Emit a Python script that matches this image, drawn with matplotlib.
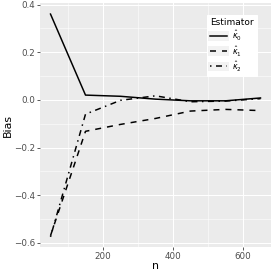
import matplotlib
matplotlib.use('Agg')
import matplotlib.pyplot as plt
from matplotlib.legend_handler import HandlerLine2D
from matplotlib.patches import Rectangle
from matplotlib.ticker import MultipleLocator

n = [50, 150, 250, 350, 450, 550, 650]
bias_k0 = [0.36, 0.020, 0.015, 0.003, -0.004, -0.004, 0.008]
bias_k1 = [-0.570, -0.132, -0.103, -0.078, -0.047, -0.040, -0.045]
bias_k2 = [-0.575, -0.060, -0.002, 0.017, -0.008, -0.005, 0.005]
labels = [r'$\hat{\kappa}_0$', r'$\hat{\kappa}_1$', r'$\hat{\kappa}_2$']


class KeyHandler(HandlerLine2D):
    # grey key background like ggplot
    def create_artists(self, legend, orig_handle, xdescent, ydescent, width, height, fontsize, trans):
        arts = super().create_artists(legend, orig_handle, xdescent, ydescent, width, height, fontsize, trans)
        bg = Rectangle((-xdescent - 2, -ydescent - 2), width + 4, height + 4,
                       facecolor='#F2F2F2', edgecolor='none', transform=trans)
        return [bg] + list(arts)


fig = plt.figure(figsize=(273 / 72, 273 / 72), dpi=72)
ax = fig.add_axes([40 / 273, 26 / 273, 231 / 273, 244 / 273])
ax.set_facecolor('#EBEBEB')

lw = 1.5
ax.plot(n, bias_k0, color='black', lw=lw, ls='-', label=labels[0])
ax.plot(n, bias_k1, color='black', lw=lw, ls=(0, (4, 4)), label=labels[1])
ax.plot(n, bias_k2, color='black', lw=lw, ls=(0, (1, 3, 4, 3)), label=labels[2])

ax.set_xlim(20, 680)
ax.set_ylim(-0.6175, 0.4065)
ax.xaxis.set_major_locator(MultipleLocator(200))
ax.xaxis.set_minor_locator(MultipleLocator(100))
ax.yaxis.set_minor_locator(MultipleLocator(0.1))
ax.grid(which='major', color='white', lw=1.0)
ax.grid(which='minor', color='white', lw=0.5)
ax.set_axisbelow(True)
for s in ax.spines.values():
    s.set_visible(False)
ax.tick_params(which='major', length=2.75, width=0.8, color='#333333',
               labelsize=8.8, labelcolor='#4D4D4D', pad=2)
ax.tick_params(which='minor', length=0)
ax.set_yticks([-0.6, -0.4, -0.2, 0.0, 0.2, 0.4])
ax.set_yticklabels(['\u22120.6', '\u22120.4', '\u22120.2', '0.0', '0.2', '0.4'])
ax.set_xlabel('n', fontsize=11, labelpad=0)
ax.set_ylabel('Bias', fontsize=11, labelpad=1)

leg = ax.legend(title='Estimator', loc='upper right', bbox_to_anchor=(0.939, 0.951),
                borderaxespad=0, fontsize=8, title_fontsize=9, frameon=True, fancybox=False,
                edgecolor='white', facecolor='white', framealpha=1,
                handlelength=2.1, handletextpad=0.6, labelspacing=0.15,
                borderpad=0.4, handler_map={plt.Line2D: KeyHandler()})
leg._legend_box.align = 'left'

fig.savefig('out.png', dpi=72)
